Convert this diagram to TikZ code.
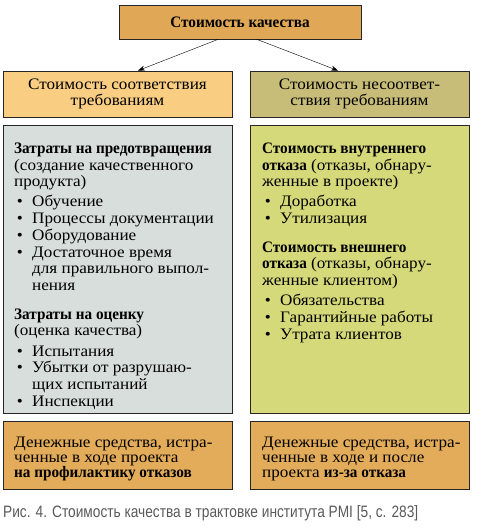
\documentclass[tikz,border=0pt]{standalone}
\usepackage{fontspec}
\setmainfont{Liberation Serif}[UprightFeatures={FakeStretch=1.07}, BoldFeatures={FakeStretch=0.95}]
\newfontfamily\capfont[FakeStretch=0.83]{Liberation Sans}
\usetikzlibrary{arrows.meta}

\definecolor{topc}{RGB}{224,168,86}
\definecolor{confc}{RGB}{249,205,130}
\definecolor{nonconfc}{RGB}{200,189,120}
\definecolor{prevc}{RGB}{215,222,219}
\definecolor{failc}{RGB}{213,217,121}
\definecolor{moneyc}{RGB}{227,172,90}

\newcommand{\itm}[1]{\makebox[18pt][l]{\,\textbullet}#1}
\newcommand{\cnt}{\hspace*{18pt}}

\tikzset{
  box/.style={draw=black!85, line width=0.8pt, inner sep=0pt},
  txt/.style={inner sep=0pt, align=left, anchor=north west,
    font=\fontsize{16}{16.7}\selectfont}
}

\begin{document}
\begin{tikzpicture}[x=1pt, y=-1pt, >={Stealth[length=7pt, width=5pt]}]
    \useasboundingbox (0,0) rectangle (500,528);
    % top
    \node[box, fill=topc, minimum width=242pt, minimum height=34pt,
        font=\bfseries\fontsize{16}{16}\selectfont] (cost) at (240,22) {Стоимость качества};
    \node[box, fill=confc, minimum width=229pt, minimum height=46pt, align=center,
        font=\fontsize{16}{16}\selectfont] (conf) at (117.5,94) {Стоимость соответствия\\требованиям};
    \node[box, fill=nonconfc, minimum width=219pt, minimum height=46pt, align=center,
        font=\fontsize{16}{16}\selectfont] (nonconf) at (359.5,94) {Стоимость несоответ-\\ствия требованиям};
    \draw[->] ([xshift=-22pt]cost.south) -- ([xshift=20.5pt]conf.north);
    \draw[->] ([xshift=17pt]cost.south) -- ([xshift=-21.5pt]nonconf.north);
    % middle
    \node[box, fill=prevc, minimum width=229pt, minimum height=288pt] (prev) at (117.5,269) {};
    \node[box, fill=failc, minimum width=219pt, minimum height=288pt] (fail) at (359.5,269) {};
    \node[txt] (prevtxt) at (14,142.5) {\textbf{Затраты на предотвращения}\\
        (создание качественного\\
        продукта)\\[3.5pt]
        \itm{Обучение}\\
        \itm{Процессы документации}\\
        \itm{Оборудование}\\
        \itm{Достаточное время}\\
        \cnt для правильного выпол-\\
        \cnt нения\\[12pt]
        \textbf{Затраты на оценку}\\
        (оценка качества)\\[3.5pt]
        \itm{Испытания}\\
        \itm{Убытки от разрушаю-}\\
        \cnt щих испытаний\\
        \itm{Инспекции}};
    \node[txt] (failtxt) at (262,142.5) {\textbf{Стоимость внутреннего}\\
        \textbf{отказа} (отказы, обнару-\\
        женные в проекте)\\[3.5pt]
        \itm{Доработка}\\
        \itm{Утилизация}\\[12pt]
        \textbf{Стоимость внешнего}\\
        \textbf{отказа} (отказы, обнару-\\
        женные клиентом)\\[3.5pt]
        \itm{Обязательства}\\
        \itm{Гарантийные работы}\\
        \itm{Утрата клиентов}};
    % bottom
    \node[box, fill=moneyc, minimum width=229pt, minimum height=68pt] (prevmoney) at (117.5,455) {};
    \node[box, fill=moneyc, minimum width=219pt, minimum height=68pt] (failmoney) at (359.5,455) {};
    \node[txt, font=\fontsize{16}{15}\selectfont] (prevmoneytxt) at (14,436.5) {Денежные средства, истра-\\
        ченные в ходе проекта\\
        \textbf{на профилактику отказов}};
    \node[txt, font=\fontsize{16}{15}\selectfont] (failmoneytxt) at (262,436.5) {Денежные средства, истра-\\
        ченные в ходе и после\\
        проекта \textbf{из-за отказа}};
    \node[anchor=base west, inner sep=0pt, text=black!65,
        font=\capfont\fontsize{16.5}{18}\selectfont] (caption) at (3,517)
        {Рис. 4. Стоимость качества в трактовке института PMI [5, с. 283]};
\end{tikzpicture}
\end{document}
